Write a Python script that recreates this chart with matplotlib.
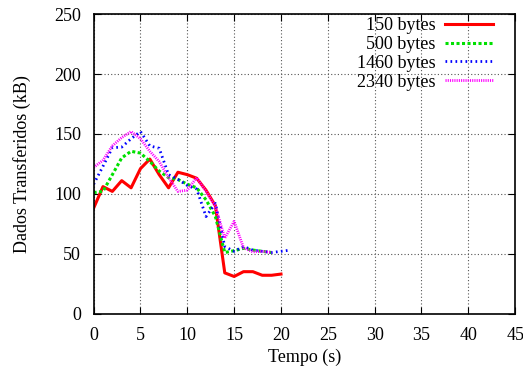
import matplotlib
matplotlib.use("Agg")
import matplotlib.pyplot as plt

plt.rcParams['font.family'] = ['Liberation Serif', 'DejaVu Serif']

t_150 = list(range(0, 21))
kb_150 = [88, 106, 102, 111, 105, 121, 129, 116, 105, 118, 116, 113, 103, 90,
          34, 31, 35, 35, 32, 32, 33]

t_500 = list(range(0, 20))
kb_500 = [101, 102, 116, 130, 135.5, 134, 127, 119, 113.5, 112, 108, 105, 95, 81,
          51, 52.5, 54.5, 53, 52, 51]

t_1460 = list(range(0, 22))
kb_1460 = [108, 123, 138.5, 139, 146, 152, 140, 138, 116, 112, 107, 104, 81, 92,
           56, 52, 56, 53, 52, 51, 52, 53]

t_2340 = list(range(0, 20))
kb_2340 = [122, 128, 140, 147, 152, 146, 135.5, 127, 113.5, 102, 103, 113.5, 102, 89.5,
           63, 77, 55, 51.5, 52, 51]

labels = ['150 bytes', '500 bytes', '1460 bytes', '2340 bytes']

fig = plt.figure(figsize=(5.23, 3.72), dpi=100)
ax = fig.add_axes([0.179, 0.157, 0.806, 0.805])

ax.plot(t_150, kb_150, color='#ff0000', lw=2.2, label=labels[0])
ax.plot(t_500, kb_500, color='#00e000', lw=2.2, ls=(0, (1.0, 0.8)), label=labels[1])
ax.plot(t_1460, kb_1460, color='#0000ff', lw=2.0, ls=(0, (0.6, 1.2)), label=labels[2])
ax.plot(t_2340, kb_2340, color='#ff00ff', lw=2.0, ls=(0, (0.4, 0.4)), label=labels[3])

ax.set_xlim(0, 45)
ax.set_ylim(0, 250)
ax.set_xticks(range(0, 46, 5))
ax.set_yticks(range(0, 251, 50))
ax.grid(True, ls=(0, (1, 2)), color='#555555', lw=0.8)
ax.tick_params(direction='in', top=True, right=True, labelsize=13, length=5)
ax.tick_params(axis='y', pad=9)
ax.tick_params(axis='x', pad=10)
for s in ax.spines.values():
    s.set_linewidth(1.2)

ax.set_xlabel('Tempo (s)', fontsize=13, labelpad=3)
ax.set_ylabel('Dados Transferidos (kB)', fontsize=13, labelpad=17)

# gnuplot-style key: labels right-aligned, samples on the right
ax.legend(loc='upper right', bbox_to_anchor=(0.948, 0.99), markerfirst=False,
          frameon=False, fontsize=13, handlelength=2.66, labelspacing=0.1,
          handletextpad=0.55, borderaxespad=0, borderpad=0)

fig.savefig('out.png', dpi=100)
